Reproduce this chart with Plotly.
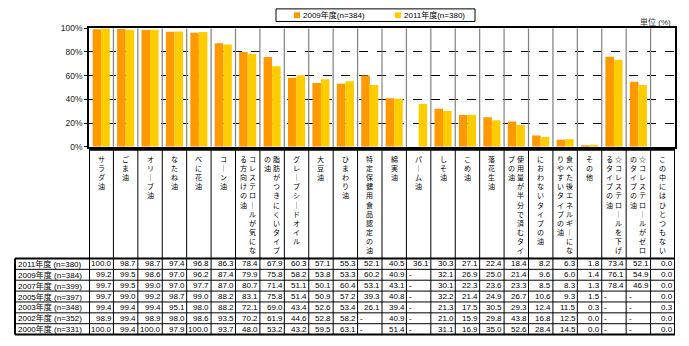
import plotly.graph_objects as go

W, H = 689, 346

categories = [
    "サラダ油", "ごま油", "オリーブ油", "なたね油", "べに花油", "コーン油",
    "コレステロールが気になる方向けの油", "脂肪がつきにくいタイプの油", "グレープシードオイル",
    "大豆油", "ひまわり油", "特定保健用食品認定の油", "綿実油", "パーム油", "しそ油", "こめ油",
    "落花生油", "使用量が半分で済むタイプの油", "におわないタイプの油",
    "食べた後エネルギーになりやすいタイプの油", "その他",
    "☆コレステロールを下げるタイプの油", "☆コレステロールがゼロのタイプの油",
    "この中にはひとつもない",
]

row_labels = ["2011年度 (n=380)", "2009年度 (n=384)", "2007年度 (n=399)", "2005年度 (n=397)",
              "2003年度 (n=348)", "2002年度 (n=352)", "2000年度 (n=331)"]

v2011 = [100.0, 98.7, 98.7, 97.4, 96.8, 86.3, 78.4, 67.9, 60.3, 57.1, 55.3, 52.1, 40.5, 36.1,
         30.3, 27.1, 22.4, 18.4, 8.2, 6.3, 1.8, 73.4, 52.1, 0.0]
v2009 = [99.2, 99.5, 98.6, 97.0, 96.2, 87.4, 79.9, 75.8, 58.2, 53.8, 53.3, 60.2, 40.9, None,
         32.1, 26.9, 25.0, 21.4, 9.6, 6.0, 1.4, 76.1, 54.9, 0.0]
v2007 = [99.7, 99.5, 99.0, 97.0, 97.7, 87.0, 80.7, 71.4, 51.1, 50.1, 60.4, 53.1, 43.1, None,
         30.1, 22.3, 23.6, 23.3, 8.5, 8.3, 1.3, 78.4, 46.9, 0.0]
v2005 = [99.7, 99.0, 99.2, 98.7, 99.0, 88.2, 83.1, 75.8, 51.4, 50.9, 57.2, 39.3, 40.8, None,
         32.2, 21.4, 24.9, 26.7, 10.6, 9.3, 1.5, None, None, 0.0]
v2003 = [99.4, 99.4, 99.4, 95.1, 98.0, 88.2, 72.1, 69.0, 43.4, 52.6, 53.4, 26.1, 39.4, None,
         21.3, 17.5, 30.5, 29.3, 12.4, 11.5, 0.3, None, None, 0.3]
v2002 = [98.9, 99.4, 98.9, 98.0, 98.6, 93.5, 70.2, 61.9, 44.6, 52.8, 58.2, None, 40.9, None,
         21.0, 15.9, 29.8, 43.8, 16.8, 12.5, 0.0, None, None, 0.0]
v2000 = [100.0, 99.4, 100.0, 97.9, 100.0, 93.7, 48.0, 53.2, 43.2, 59.5, 63.1, None, 51.4, None,
         31.1, 16.9, 35.0, 52.6, 28.4, 14.5, 0.0, None, None, 0.0]
table_rows = [v2011, v2009, v2007, v2005, v2003, v2002, v2000]

y_ticks = [0, 20, 40, 60, 80, 100]
y_ticktext = ["0%", "20%", "40%", "60%", "80%", "100%"]

series_names = ["2009年度(n=384)", "2011年度(n=380)"]

C2009 = "#FF9900"
C2011 = "#FFCC00"
FONT = "Liberation Sans, Arial, Noto Sans CJK JP"
JFONT = "Noto Sans CJK JP"


def px_x(p):
    return p / W


def px_y(p):
    return 1 - p / H


plot_l, plot_r, plot_t, plot_b = 89, 675, 24, 146
label_top = 149
table_top = 261
row_h = 11.2
table_bot = table_top + row_h * len(table_rows)
table_left = 15

fig = go.Figure()
fig.add_trace(go.Bar(x=categories, y=v2009, marker=dict(color=C2009, line=dict(width=0)),
                     name=series_names[0], showlegend=False, hoverinfo="skip"))
fig.add_trace(go.Bar(x=categories, y=v2011, marker=dict(color=C2011, line=dict(width=0)),
                     name=series_names[1], showlegend=False, hoverinfo="skip"))

shapes = []
n = len(categories)
# gray separators inside plot
for i in range(1, n):
    shapes.append(dict(type="line", xref="x", yref="y", x0=i - 0.5, x1=i - 0.5, y0=0, y1=100,
                       line=dict(color="#808080", width=1.2), layer="above"))
# label area + table vertical lines
for i in range(0, n + 1):
    w = 2 if i in (0, n) else 1
    shapes.append(dict(type="line", xref="x", yref="paper", x0=i - 0.5, x1=i - 0.5,
                       y0=px_y(label_top), y1=px_y(table_bot), line=dict(color="black", width=w)))
# label area top
shapes.append(dict(type="line", xref="paper", yref="paper", x0=px_x(plot_l), x1=px_x(plot_r),
                   y0=px_y(label_top), y1=px_y(label_top), line=dict(color="black", width=2)))
# table horizontal lines
for k in range(len(table_rows) + 1):
    yy = table_top + row_h * k
    w = 2 if k in (0, len(table_rows)) else 1
    shapes.append(dict(type="line", xref="paper", yref="paper", x0=px_x(table_left), x1=px_x(plot_r),
                       y0=px_y(yy), y1=px_y(yy), line=dict(color="black", width=w)))
# row label column left border
shapes.append(dict(type="line", xref="paper", yref="paper", x0=px_x(table_left), x1=px_x(table_left),
                   y0=px_y(table_top), y1=px_y(table_bot), line=dict(color="black", width=2)))

# legend box (drawn)
leg_l, leg_r, leg_t, leg_b = 276, 475, 4, 17
shapes.append(dict(type="rect", xref="paper", yref="paper", x0=px_x(leg_l), x1=px_x(leg_r),
                   y0=px_y(leg_b), y1=px_y(leg_t), line=dict(color="black", width=1),
                   fillcolor="white"))
leg_items = [(294, C2009, series_names[0]), (395, C2011, series_names[1])]
annotations = []
for sx, col, name in leg_items:
    shapes.append(dict(type="rect", xref="paper", yref="paper", x0=px_x(sx), x1=px_x(sx + 6),
                       y0=px_y(13.5), y1=px_y(7.5), line=dict(width=0), fillcolor=col))
    annotations.append(dict(x=px_x(sx + 7), xref="paper", y=px_y(10.5), yref="paper", text=name,
                            showarrow=False, xanchor="left", yanchor="middle",
                            font=dict(family=FONT, size=8, color="black")))

# vertical category labels
for cat in categories:
    chars = list(cat.replace("ー", "｜"))
    chunks = [chars[k:k + 11] for k in range(0, len(chars), 11)]
    for j, ch in enumerate(chunks):
        off = 0 if len(chunks) == 1 else (4.5 if j == 0 else -4.5)
        annotations.append(dict(x=cat, xref="x", y=px_y(label_top + 2), yref="paper",
                                text="<br>".join(ch), showarrow=False, xanchor="center",
                                yanchor="top", xshift=off, align="center",
                                font=dict(family=JFONT, size=7, color="black")))
# table values
for r, (lab, vals) in enumerate(zip(row_labels, table_rows)):
    yc = px_y(table_top + row_h * (r + 0.5))
    annotations.append(dict(x=px_x(table_left + 1), xref="paper", y=yc, yref="paper", text=lab,
                            showarrow=False, xanchor="left", yanchor="middle",
                            font=dict(family=FONT, size=8, color="black")))
    for cat, v in zip(categories, vals):
        if v is None:
            annotations.append(dict(x=cat, xref="x", y=yc, yref="paper", text="-", showarrow=False,
                                    xanchor="left", yanchor="middle", xshift=-11.5,
                                    font=dict(family=FONT, size=8, color="black")))
        else:
            annotations.append(dict(x=cat, xref="x", y=yc, yref="paper", text=f"{v:.1f}",
                                    showarrow=False, xanchor="right", yanchor="middle", xshift=12.5,
                                    font=dict(family=FONT, size=8, color="black")))
# unit label
annotations.append(dict(x=px_x(673), xref="paper", y=px_y(18), yref="paper", text="単位 (%)",
                        showarrow=False, xanchor="right", yanchor="middle",
                        font=dict(family=FONT, size=8, color="#333333")))

fig.update_layout(
    width=W, height=H,
    margin=dict(l=0, r=0, t=0, b=0),
    paper_bgcolor="white", plot_bgcolor="white",
    barmode="group", bargap=0.3, bargroupgap=0,
    font=dict(family=FONT, size=8, color="black"),
    xaxis=dict(domain=[px_x(plot_l), px_x(plot_r)], type="category", categoryorder="array",
               categoryarray=categories, range=[-0.5, n - 0.5], showticklabels=False,
               showline=True, linecolor="black", linewidth=1.5, mirror=True, ticks="",
               showgrid=False, zeroline=False, fixedrange=True),
    yaxis=dict(domain=[px_y(plot_b), px_y(plot_t)], range=[0, 100], tickmode="array",
               tickvals=y_ticks, ticktext=y_ticktext, ticks="outside", ticklen=3,
               tickcolor="black", tickfont=dict(family=FONT, size=8.5, color="#222222"),
               showline=True, linecolor="black", linewidth=1.5, mirror=True,
               showgrid=True, gridcolor="black", gridwidth=1, griddash="dash",
               zeroline=False, fixedrange=True),
    shapes=shapes,
    annotations=annotations,
    showlegend=False,
)

fig.write_html("out.html")
